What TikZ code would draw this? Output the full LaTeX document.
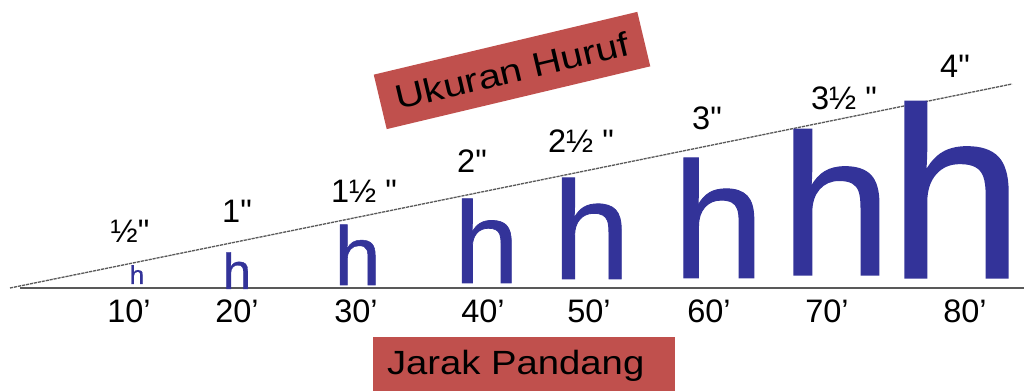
\documentclass[tikz,border=0pt]{standalone}
\usepackage{fontspec}
\setmainfont{Liberation Sans}[Ligatures=TeXOff]
\newfontfamily\letterfont{Liberation Sans}[FakeBold=0.6]
\usepackage{xcolor}
\usepackage{tikz}
\usetikzlibrary{positioning,calc}

\definecolor{boxred}{HTML}{C0504D}
\definecolor{letterblue}{HTML}{333399}
\definecolor{linegray}{HTML}{595959}

\begin{document}
\begin{tikzpicture}[x=0.02cm,y=-0.02cm,
    every node/.style={inner sep=0pt,outer sep=0pt},
    dist/.style={anchor=base,font=\fontsize{18.5}{20}\selectfont},
    size/.style={anchor=base,font=\fontsize{18.5}{20}\selectfont},
    letter/.style={anchor=base,text=letterblue},
    redbox/.style={fill=boxred,font=\fontsize{19.1}{21}\selectfont}]
\useasboundingbox (0,0) rectangle (1024,391);
% base line and sight line
\coordinate (eye) at (10,288);
\coordinate (far) at (1012,84);
\coordinate (start) at (20,287.7);
\coordinate (end) at (1024,287.7);
\draw[linegray,line width=1.1pt] (start) -- (end);
\draw[linegray,line width=0.75pt,dash pattern=on 1.8pt off 0.5pt] (eye) -- (far);
% letters
\node[letter,font=\fontsize{14.8}{16}\letterfont]  (h10) at (137,284) {h};
\node[letter,font=\fontsize{28.8}{30}\letterfont]  (h20) at (237,289) {h};
\node[letter,font=\fontsize{47.5}{50}\letterfont]  (h30) at (357.5,285) {h};
\node[letter,font=\fontsize{66.2}{70}\letterfont]  (h40) at (486.5,283) {h};
\node[letter,font=\fontsize{79.5}{82}\letterfont]  (h50) at (591.5,279) {h};
\node[letter,font=\fontsize{94.3}{98}\letterfont]  (h60) at (718.5,278) {h};
\node[letter,font=\fontsize{114.5}{118}\letterfont] (h70) at (836,275) {h};
\node[letter,font=\fontsize{138.7}{143}\letterfont] (h80) at (956,278) {h};
% letter sizes
\node[size] (s10) at (130,243) {½"};
\node[size] (s20) at (237,223) {1"};
\node[size] (s30) at (364,203) {1½ "};
\node[size] (s40) at (472,173) {2"};
\node[size] (s50) at (581,153) {2½ "};
\node[size] (s60) at (707,130) {3"};
\node[size] (s70) at (844,110) {3½ "};
\node[size] (s80) at (955,78) {4"};
% distances
\node[dist] (d10) at (129,323) {10’};
\node[dist] (d20) at (237,323) {20’};
\node[dist] (d30) at (356,323) {30’};
\node[dist] (d40) at (483,323) {40’};
\node[dist] (d50) at (589,323) {50’};
\node[dist] (d60) at (709,323) {60’};
\node[dist] (d70) at (827,323) {70’};
\node[dist] (d80) at (965,323) {80’};
% captions
\node[redbox,rotate=13.4,minimum width=5.42cm,minimum height=1.12cm]
    (ukuran) at (512,70.5) {\scalebox{1.2}[1]{Ukuran Huruf}};
\fill[boxred] (373,337) rectangle (675,395);
\node[font=\fontsize{19.1}{21}\selectfont,anchor=base west]
    (jarak) at (387,375) {\scalebox{1.14}[1]{Jarak Pandang}};
\end{tikzpicture}
\end{document}
